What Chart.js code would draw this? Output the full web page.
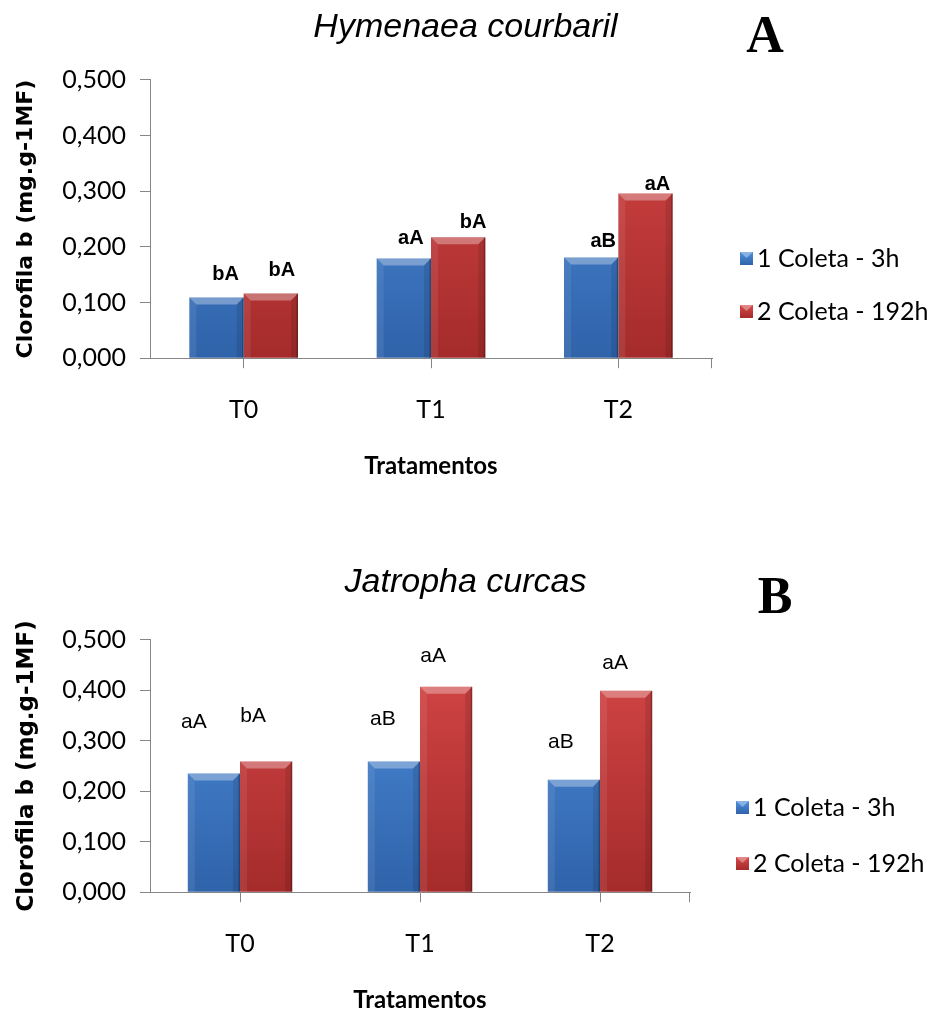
<!DOCTYPE html>
<html>
<head>
<meta charset="utf-8">
<script src="https://cdn.jsdelivr.net/npm/chart.js@4.4.1/dist/chart.umd.min.js"></script>
<style>
  html, body { margin: 0; padding: 0; background: #fff; }
  body { width: 931px; height: 1019px; position: relative; overflow: hidden; }
  .box { position: absolute; left: 0; width: 931px; }
  #boxA { top: 0; height: 490px; }
  #boxB { top: 540px; height: 479px; }
</style>
</head>
<body>
<div class="box" id="boxA"><canvas id="chartA"></canvas></div>
<div class="box" id="boxB"><canvas id="chartB"></canvas></div>
<script>
// DATA
const tratamentos = ['T0', 'T1', 'T2'];
const seriesNames = ['1 Coleta - 3h', '2 Coleta - 192h'];
const yTicks = [0, 0.1, 0.2, 0.3, 0.4, 0.5];

// A - Hymenaea courbaril
const hymColeta1 = [0.109, 0.179, 0.181];
const hymColeta2 = [0.116, 0.217, 0.296];
const hymLetras1 = ['bA', 'aA', 'aB'];
const hymLetras2 = ['bA', 'bA', 'aA'];

// B - Jatropha curcas
const jatColeta1 = [0.235, 0.259, 0.223];
const jatColeta2 = [0.259, 0.407, 0.399];
const jatLetras1 = ['aA', 'aB', 'aB'];
const jatLetras2 = ['bA', 'aA', 'aA'];

// colors: [top, bottom, legend]
const azul = ['#4f8fdc', '#2f63aa', '#3a74c4'];
const vermelho = ['#d84848', '#a52b2b', '#c23a3a'];

let fillPoly = (ctx, pts) => {
    ctx.beginPath();
    ctx.moveTo(pts[0][0], pts[0][1]);
    for (let i = 1; i < pts.length; i++) {
        ctx.lineTo(pts[i][0], pts[i][1]);
    }
    ctx.closePath();
    ctx.fill();
}

let barGradient = (cols) => {
    return (context) => {
        if (context.type !== 'data' || !context.chart.chartArea) return cols[2];
        let area = context.chart.chartArea;
        let g = context.chart.ctx.createLinearGradient(0, area.top, 0, area.bottom);
        g.addColorStop(0, cols[0]);
        g.addColorStop(1, cols[1]);
        return g;
    }
}

// bevel look of the bars
const bevelPlugin = {
    id: 'bevel',
    afterDatasetsDraw(chart) {
        let ctx = chart.ctx;
        ctx.save();
        chart.data.datasets.forEach((ds, i) => {
            chart.getDatasetMeta(i).data.forEach(bar => {
                let p = bar.getProps(['x', 'y', 'base', 'width'], true);
                let l = p.x - p.width / 2, r = p.x + p.width / 2, t = p.y, b = p.base;
                let e = 7;
                ctx.fillStyle = 'rgba(255,255,255,0.32)';
                fillPoly(ctx, [[l, t], [r, t], [r - e, t + e], [l + e, t + e]]);
                ctx.fillStyle = 'rgba(255,255,255,0.08)';
                fillPoly(ctx, [[l, t], [l + e, t + e], [l + e, b], [l, b]]);
                ctx.fillStyle = 'rgba(0,0,0,0.10)';
                fillPoly(ctx, [[r, t], [r, b], [r - e, b], [r - e, t + e]]);
                ctx.fillStyle = 'rgba(0,0,0,0.25)';
                ctx.fillRect(r - 1.5, t, 1.5, b - t);
            });
        });
        // small tick at the right end of the x axis
        let area = chart.chartArea;
        ctx.strokeStyle = '#868686';
        ctx.lineWidth = 1;
        ctx.beginPath();
        ctx.moveTo(Math.round(area.right) - 0.5, area.bottom);
        ctx.lineTo(Math.round(area.right) - 0.5, area.bottom + 10);
        ctx.stroke();
        ctx.restore();
    }
};

// letters over the bars, panel letter and legend
const notasPlugin = {
    id: 'notas',
    afterDraw(chart, args, opts) {
        let ctx = chart.ctx;
        ctx.save();
        ctx.fillStyle = '#000';
        ctx.textAlign = 'center';
        ctx.textBaseline = 'middle';
        ctx.font = opts.letraFont;
        chart.data.datasets.forEach((ds, i) => {
            chart.getDatasetMeta(i).data.forEach((bar, j) => {
                let off = opts.offsets[i][j];
                ctx.fillText(ds.letras[j], bar.x + off[0], bar.y + off[1]);
            });
        });

        ctx.font = 'bold 52px "Liberation Serif", "Times New Roman", serif';
        ctx.textBaseline = 'alphabetic';
        ctx.fillText(opts.painel, opts.painelX, opts.painelY);

        // legend
        ctx.textAlign = 'left';
        ctx.textBaseline = 'middle';
        ctx.font = '25px Lato, "Open Sans", sans-serif';
        chart.data.datasets.forEach((ds, i) => {
            let y = opts.legY + i * opts.legDy;
            let cols = i === 0 ? azul : vermelho;
            let g = ctx.createLinearGradient(0, y - 6, 0, y + 7);
            g.addColorStop(0, cols[0]);
            g.addColorStop(1, cols[1]);
            ctx.fillStyle = g;
            ctx.fillRect(opts.legX, y - 6, 13, 13);
            ctx.fillStyle = 'rgba(255,255,255,0.35)';
            fillPoly(ctx, [[opts.legX, y - 6], [opts.legX + 13, y - 6], [opts.legX + 6.5, y]]);
            ctx.fillStyle = '#000';
            ctx.fillText(ds.label, opts.legX + 17, y + 1);
        });
        ctx.restore();
    }
};

let makeChart = (id, cfg) => {
    let ctx = document.getElementById(id).getContext('2d');
    return new Chart(ctx, {
        type: 'bar',
        data: {
            labels: tratamentos,
            datasets: [{
                label: seriesNames[0],
                data: cfg.coleta1,
                letras: cfg.letras1,
                backgroundColor: barGradient(azul),
                borderWidth: 0,
                categoryPercentage: cfg.catPct,
                barPercentage: 1
            }, {
                label: seriesNames[1],
                data: cfg.coleta2,
                letras: cfg.letras2,
                backgroundColor: barGradient(vermelho),
                borderWidth: 0,
                categoryPercentage: cfg.catPct,
                barPercentage: 1
            }]
        },
        options: {
            responsive: true,
            maintainAspectRatio: false,
            animation: false,
            layout: {
                padding: { left: 0, right: 0, top: 0, bottom: cfg.padBottom }
            },
            plugins: {
                legend: { display: false },
                tooltip: { enabled: false },
                title: {
                    display: true,
                    text: cfg.titulo,
                    color: '#000',
                    font: { family: '"Liberation Sans", Arial, sans-serif', size: 34, style: 'italic', weight: 'normal' },
                    padding: { top: cfg.titTop, bottom: cfg.titBottom }
                },
                notas: {
                    offsets: cfg.offsets,
                    letraFont: cfg.letraFont,
                    painel: cfg.painel,
                    painelX: cfg.painelX,
                    painelY: cfg.painelY,
                    legX: cfg.legX,
                    legY: cfg.legY,
                    legDy: cfg.legDy
                }
            },
            scales: {
                x: {
                    grid: { display: true, drawOnChartArea: false, offset: false, tickLength: 10, color: '#868686' },
                    border: { color: '#868686' },
                    ticks: { color: '#000', padding: 27, font: { family: 'Lato, "Open Sans", sans-serif', size: 25 } },
                    title: {
                        display: true,
                        text: 'Tratamentos',
                        color: '#000',
                        font: { family: 'Lato, "Open Sans", sans-serif', size: 24, weight: 'bold' },
                        padding: { top: 0, bottom: 4 }
                    }
                },
                y: {
                    min: 0,
                    max: 0.5,
                    afterBuildTicks: (scale) => {
                        scale.ticks = yTicks.map(v => ({ value: v }));
                    },
                    afterFit: (scale) => {
                        scale.width = 150;
                    },
                    grid: { display: true, drawOnChartArea: false, tickLength: 10, color: '#868686' },
                    border: { color: '#868686' },
                    ticks: {
                        color: '#000',
                        padding: 14,
                        font: { family: 'Lato, "Open Sans", sans-serif', size: 25 },
                        callback: (v) => v.toFixed(3).replace('.', ',')
                    },
                    title: {
                        display: true,
                        text: 'Clorofila b (mg.g-1MF)',
                        color: '#000',
                        font: { family: '"DejaVu Sans", Verdana, sans-serif', size: cfg.yTitSize, weight: 'bold' },
                        padding: { top: 13, bottom: 0 }
                    }
                },
                // empty axis on the right keeps room for the legend
                espaco: {
                    type: 'linear',
                    position: 'right',
                    display: true,
                    grid: { display: false },
                    border: { display: false },
                    ticks: { display: false },
                    afterFit: (scale) => {
                        scale.width = cfg.espacoDireita;
                    }
                }
            }
        },
        plugins: [bevelPlugin, notasPlugin]
    });
}

// FIRST CHART
let chartA = makeChart('chartA', {
    titulo: 'Hymenaea courbaril',
    coleta1: hymColeta1,
    coleta2: hymColeta2,
    letras1: hymLetras1,
    letras2: hymLetras2,
    catPct: 0.58,
    espacoDireita: 219,
    padBottom: 5,
    titTop: 7,
    titBottom: 32,
    yTitSize: 22,
    letraFont: 'bold 20px "Liberation Sans", Arial, sans-serif',
    offsets: [[[9, -23], [7, -20], [12, -16]], [[11, -23], [15, -15], [12, -9]]],
    painel: 'A',
    painelX: 765,
    painelY: 52,
    legX: 740,
    legY: 258,
    legDy: 53
});

// SECOND CHART
let chartB = makeChart('chartB', {
    titulo: 'Jatropha curcas',
    coleta1: jatColeta1,
    coleta2: jatColeta2,
    letras1: jatLetras1,
    letras2: jatLetras2,
    catPct: 0.58,
    espacoDireita: 241,
    padBottom: 0,
    titTop: 22,
    titBottom: 37,
    yTitSize: 23,
    letraFont: '21px "Liberation Sans", Arial, sans-serif',
    offsets: [[[-20, -51], [-11, -42], [-13, -37]], [[-13, -45], [-13, -31], [-11, -28]]],
    painel: 'B',
    painelX: 775,
    painelY: 73,
    legX: 736,
    legY: 267,
    legDy: 56
});
</script>
</body>
</html>
